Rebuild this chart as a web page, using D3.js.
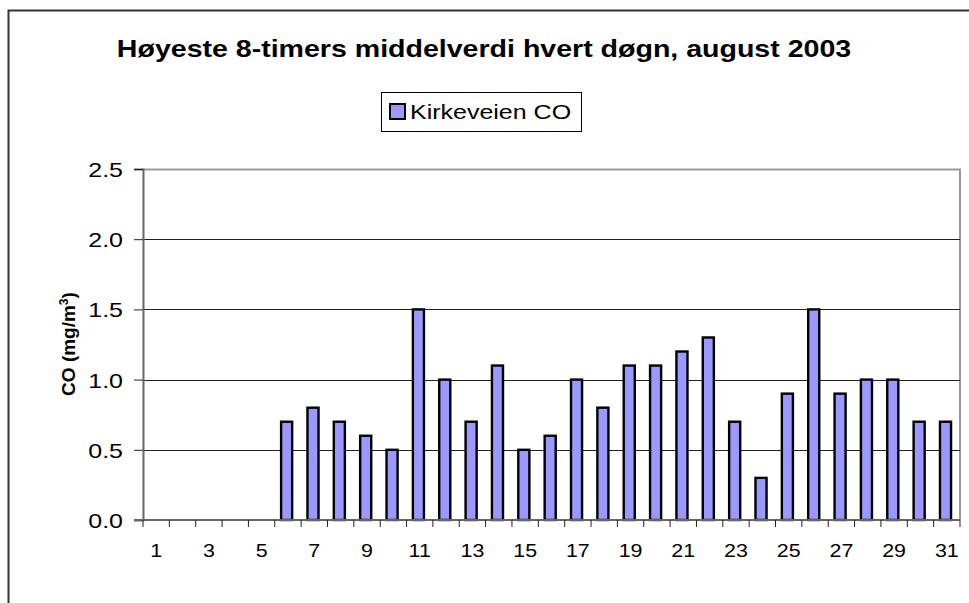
<!DOCTYPE html>
<html>
<head>
<meta charset="utf-8">
<script src="https://cdn.jsdelivr.net/npm/d3@7"></script>
<style>
    body { margin: 0; background: #fff; }
    text { font-family: Arial, "Liberation Sans", sans-serif; }
</style>
</head>
<body>
<div id="my_dataviz"><svg></svg></div>
<script>
// days of august, and CO values (mg/m3); null = no data
var days = d3.range(1, 32);
var coValues = [null, null, null, null, null,
    0.7, 0.8, 0.7, 0.6, 0.5, 1.5, 1.0, 0.7, 1.1, 0.5,
    0.6, 1.0, 0.8, 1.1, 1.1, 1.2, 1.3, 0.7, 0.3, 0.9,
    1.5, 0.9, 1.0, 1.0, 0.7, 0.7];
var yTicks = [0, 0.5, 1.0, 1.5, 2.0, 2.5];
var xLabels = days.filter(function (d) { return d % 2 == 1; });

var width = 969, height = 603;
var margin = {top: 169, right: 9, bottom: 83, left: 143};
var plotW = width - margin.left - margin.right;
var plotH = height - margin.top - margin.bottom;
var stretch = 1.19; // text in the picture is a bit wider than normal

var svg = d3.select("#my_dataviz").select("svg")
    .attr("width", width)
    .attr("height", height);

// outer chart border (only top and left visible in picture)
svg.append("rect")
    .attr("x", 8.5).attr("y", 10.5)
    .attr("width", 1000).attr("height", 1000)
    .attr("fill", "none")
    .attr("stroke", "#333").attr("stroke-width", 2);

svg.append("text")
    .attr("transform", "translate(484,57) scale(" + stretch + ",1)")
    .attr("text-anchor", "middle")
    .attr("font-size", 24).attr("font-weight", "bold")
    .text("Høyeste 8-timers middelverdi hvert døgn, august 2003");

// legend
var legend = svg.append("g");
legend.append("rect")
    .attr("x", 381.5).attr("y", 92.5).attr("width", 200).attr("height", 39)
    .attr("fill", "#fff").attr("stroke", "#000");
legend.append("rect")
    .attr("x", 390).attr("y", 104).attr("width", 15).attr("height", 15)
    .attr("fill", "#9999ff").attr("stroke", "#000").attr("stroke-width", 2);
legend.append("text")
    .attr("transform", "translate(410,119) scale(" + stretch + ",1)")
    .attr("font-size", 21)
    .text("Kirkeveien CO");

var g = svg.append("g")
    .attr("transform", "translate(" + margin.left + "," + margin.top + ")");

var x = d3.scaleBand().domain(days).range([0, plotW]);
var y = d3.scaleLinear().domain([0, 2.5]).range([plotH, 0]);

// plot border top/right
g.append("path")
    .attr("d", "M0,0.5H" + plotW + "V" + plotH)
    .attr("fill", "none").attr("stroke", "#999").attr("stroke-width", 2);

// gridlines
g.selectAll(".grid")
    .data(yTicks.filter(function (t) { return t > 0 && t < 2.5; }))
    .enter().append("line")
    .attr("x1", 0).attr("x2", plotW)
    .attr("y1", function (d) { return Math.round(y(d)) + 0.5; })
    .attr("y2", function (d) { return Math.round(y(d)) + 0.5; })
    .attr("stroke", "#222").attr("stroke-width", 1.2);

// y axis
var yAxis = g.append("g")
    .call(d3.axisLeft(y).tickValues(yTicks).tickFormat(d3.format(".1f")).tickSize(9).tickPadding(0));
yAxis.select(".domain").attr("stroke", "#666").attr("stroke-width", 2);
yAxis.selectAll(".tick line").attr("stroke", "#222");
yAxis.selectAll("text")
    .attr("x", null).attr("dy", null)
    .attr("transform", "translate(-20,7.5) scale(" + stretch + ",1)")
    .attr("font-size", 21).attr("fill", "#000")
    .attr("font-family", "Arial, 'Liberation Sans', sans-serif");

// bars
g.selectAll(".bar")
    .data(days.map(function (d, i) { return {day: d, v: coValues[i]}; })
        .filter(function (d) { return d.v != null; }))
    .enter().append("rect")
    .attr("x", function (d) { return x(d.day) + x.bandwidth() * 0.24; })
    .attr("y", function (d) { return y(d.v); })
    .attr("width", x.bandwidth() * 0.42)
    .attr("height", function (d) { return plotH - y(d.v); })
    .attr("fill", "#9999ff").attr("stroke", "#000").attr("stroke-width", 2.4);

// x axis: ticks at category boundaries, labels on odd days
var xa = g.append("g").attr("transform", "translate(0," + plotH + ")");
xa.append("line").attr("x1", -9).attr("x2", plotW)
    .attr("stroke", "#666").attr("stroke-width", 2);
xa.selectAll(".xt")
    .data(days.concat([32]))
    .enter().append("line")
    .attr("x1", function (d) { return d == 32 ? plotW : x(d); })
    .attr("x2", function (d) { return d == 32 ? plotW : x(d); })
    .attr("y1", 0).attr("y2", 7)
    .attr("stroke", "#222");
xa.selectAll(".xl")
    .data(xLabels)
    .enter().append("text")
    .attr("transform", function (d) {
        return "translate(" + (x(d) + x.bandwidth() / 2) + ",37) scale(" + stretch + ",1)";
    })
    .attr("text-anchor", "middle")
    .attr("font-size", 18)
    .text(function (d) { return d; });

// y title
var yt = svg.append("text")
    .attr("transform", "translate(75,344) rotate(-90)")
    .attr("text-anchor", "middle")
    .attr("font-size", 19).attr("font-weight", "bold");
yt.append("tspan").text("CO (mg/m");
yt.append("tspan").attr("baseline-shift", "super").attr("font-size", 12).text("3");
yt.append("tspan").text(")");
</script>
</body>
</html>
